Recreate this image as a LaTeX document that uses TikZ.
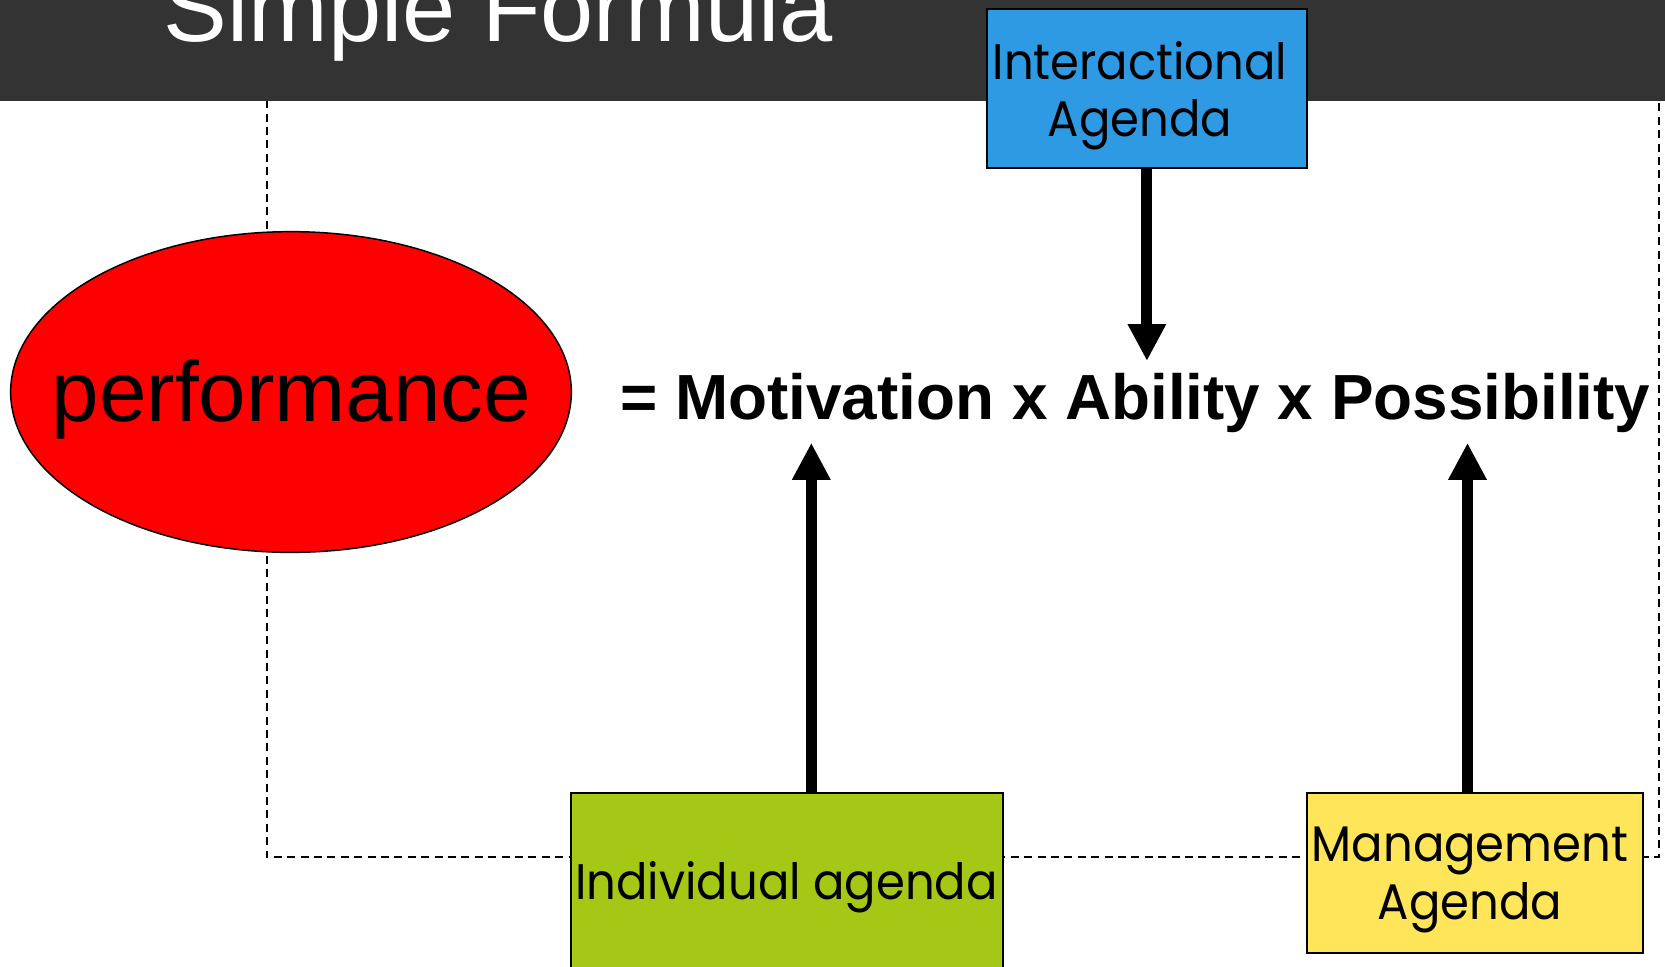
\documentclass[tikz,border=0pt]{standalone}
\usepackage{fontspec}
\setmainfont{Liberation Sans}
\newfontfamily\gothic[FakeStretch=0.93]{Poppins}
\usetikzlibrary{arrows.meta,shapes.geometric}
\definecolor{bar}{HTML}{333333}
\definecolor{iblue}{HTML}{2E9AE3}
\definecolor{igreen}{HTML}{A4C815}
\definecolor{iyellow}{HTML}{FEE55A}
\tikzset{
  agenda/.style={draw=black, line width=1pt, inner sep=0pt},
  agendatext/.style={inner sep=0pt, align=center, anchor=base,
    font=\gothic\fontsize{25}{28.75}\selectfont},
  bigarrow/.style={line width=5.5pt, -{Triangle[length=18.5pt,width=18pt]}},
  frame/.style={draw=black, line width=0.9pt, dash pattern=on 4pt off 2.7pt}
}
\begin{document}
\begin{tikzpicture}[x=0.5pt,y=-0.5pt]
\useasboundingbox (0,0) rectangle (1665,966);
\clip (0,0) rectangle (1665,966);
% dashed frame
\draw[frame] (266.7,60) rectangle (1658.7,857);
% top bar
\fill[bar] (0,0) rectangle (1665,101);
\node[anchor=base west, inner sep=0pt, text=white, font=\fontsize{47.8}{57}\selectfont] (title) at (163,41) {Simple Formula};
% ellipse
\node[ellipse, draw=black, line width=0.75pt, fill=red, minimum width=280.35pt, minimum height=160.35pt, inner sep=0pt] (perf) at (291,392) {};
\node[anchor=base, inner sep=0pt, font=\fontsize{42.7}{50}\selectfont] (perftext) at (291.5,421) {performance};
% formula
\node[anchor=base west, inner sep=0pt, font=\bfseries\fontsize{31.9}{38}\selectfont] (formula) at (620,419) {= Motivation x Ability x Possibility};
% boxes
\node[agenda, fill=iblue, minimum width=160pt, minimum height=79.65pt] (inter) at (1146.7,88.65) {};
\node[agendatext] (intertext) at (1140,136.7) {Interactional\\Agenda};
\node[agenda, fill=igreen, minimum width=216.3pt, minimum height=88pt] (indiv) at (787,880.7) {};
\node[agendatext] (indivtext) at (786.5,899) {Individual agenda};
\node[agenda, fill=iyellow, minimum width=168.15pt, minimum height=80pt] (manage) at (1474.85,872.7) {};
\node[agendatext] (managetext) at (1470,919.3) {Management\\Agenda};
% arrow tips
\coordinate (tipA) at (1146.9,361);
\coordinate (tipM) at (811.3,442.8);
\coordinate (tipP) at (1467.5,442.8);
\draw[bigarrow] (inter.south -| tipA) -- (tipA);
\draw[bigarrow] (indiv.north -| tipM) -- (tipM);
\draw[bigarrow] (manage.north -| tipP) -- (tipP);
\end{tikzpicture}
\end{document}
